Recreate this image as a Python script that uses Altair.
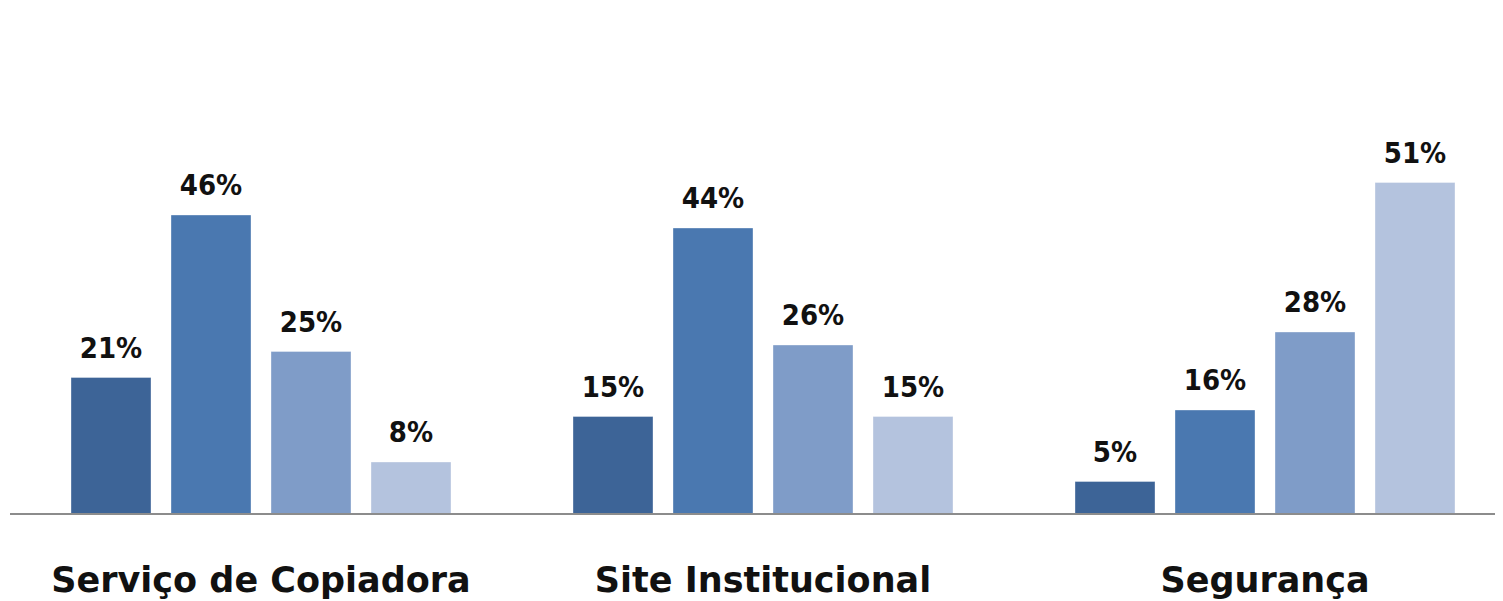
import altair as alt
import pandas as pd

categories = ["Serviço de Copiadora", "Site Institucional", "Segurança"]
series = ["Série 1", "Série 2", "Série 3", "Série 4"]
values_copiadora = [21, 46, 25, 8]
values_site = [15, 44, 26, 15]
values_seguranca = [5, 16, 28, 51]
colors = ["#3D6497", "#4A78B0", "#7F9CC8", "#B4C3DE"]

rows = []
for cat, vals in zip(categories, [values_copiadora, values_site, values_seguranca]):
    for s, v in zip(series, vals):
        rows.append({"categoria": cat, "serie": s, "valor": v, "rotulo": f"{v}%"})
df = pd.DataFrame(rows)

W = 1485
H = 494
num_font = ("Liberation Sans Narrow, Noto Sans Condensed, DejaVu Sans Condensed, "
            "Roboto Condensed, Liberation Sans, sans-serif")
cat_font = "DejaVu Sans, Noto Sans, sans-serif"

x_enc = alt.X(
    "categoria:N",
    sort=categories,
    scale=alt.Scale(range=[0, 1506], paddingInner=0, paddingOuter=0),
    axis=alt.Axis(
        title=None, labelAngle=0, domain=False, ticks=False, tickSize=0,
        labelFont=cat_font, labelFontSize=35, labelFontWeight="bold",
        labelColor="#111111", labelPadding=77, labelBaseline="alphabetic",
        labelLimit=0,
    ),
)
xo_enc = alt.XOffset("serie:N", sort=series,
                     scale=alt.Scale(paddingInner=0.2, paddingOuter=0.61))
y_enc = alt.Y("valor:Q", scale=alt.Scale(domain=[0, 76], nice=False), axis=None)

base = alt.Chart(df).encode(x=x_enc, xOffset=xo_enc, y=y_enc)

bars = base.mark_bar(stroke="#ffffff", strokeOpacity=0.35, strokeWidth=1).encode(
    color=alt.Color("serie:N", sort=series,
                    scale=alt.Scale(domain=series, range=colors), legend=None)
)
labels = base.mark_text(
    baseline="alphabetic", dy=-20, font=num_font, fontSize=29,
    fontWeight="bold", color="#111111",
).encode(text="rotulo:N")

axis_line = alt.Chart(pd.DataFrame({"valor": [0]})).mark_rule(
    color="#8C8C8C", strokeWidth=2
).encode(y=alt.Y("valor:Q"), x=alt.value(0), x2=alt.value(W))

chart = alt.layer(bars, labels, axis_line).properties(
    width=W, height=H,
    autosize=alt.AutoSizeParams(type="none"),
    padding={"left": 2, "top": 12, "right": 0, "bottom": 88},
    background="#ffffff",
).configure_view(stroke=None)

chart.save("out.html", embed_options={"renderer": "svg", "actions": False})
